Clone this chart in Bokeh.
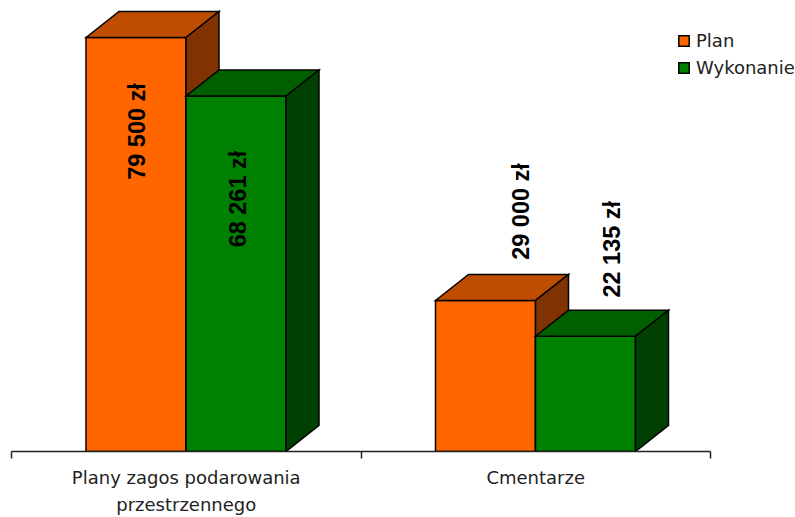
from bokeh.plotting import figure
from bokeh.models import Range1d, FixedTicker, Legend, LegendItem
from bokeh.core.properties import value
from bokeh.embed import file_html
from bokeh.resources import INLINE
import math

categories = ["Plany zagos podarowania\nprzestrzennego", "Cmentarze"]
series_names = ["Plan", "Wykonanie"]
plan_values = [79500, 29000]
wykonanie_values = [68261, 22135]
value_labels = [["79 500 zł", "29 000 zł"], ["68 261 zł", "22 135 zł"]]
face_colors = ["#FF6600", "#008000"]
top_colors = ["#BF4D00", "#006000"]
side_colors = ["#803300", "#004000"]

W, H = 795, 517
CAT_PX = 349.5
ORIGIN_PX = 11         # axis start within figure
BASE_PX = 451          # baseline within figure
ZL_PER_PX = 79500 / 414.0
BAR_W = 100.0 / CAT_PX
BAR_START = 74.5 / CAT_PX
DX = 33.0 / CAT_PX
DY = 26.0 * ZL_PER_PX

p = figure(width=W, height=H, output_backend="svg", toolbar_location=None,
           x_range=Range1d(-ORIGIN_PX / CAT_PX, (W - ORIGIN_PX) / CAT_PX),
           y_range=Range1d(0, BASE_PX * ZL_PER_PX),
           min_border_left=0, min_border_right=0, min_border_top=0,
           min_border_bottom=H - BASE_PX, outline_line_color=None)
p.grid.visible = False
p.yaxis.visible = False

ax = p.xaxis[0]
ax.ticker = FixedTicker(ticks=[0.5, 1.5], minor_ticks=[0, 1, 2])
ax.bounds = (0, 2)
ax.major_label_overrides = {0.5: categories[0], 1.5: categories[1]}
ax.major_tick_in = 0
ax.major_tick_out = 0
ax.minor_tick_in = 0
ax.minor_tick_out = 7
ax.minor_tick_line_color = "#222222"
ax.axis_line_color = "#222222"
ax.axis_line_width = 1.5
ax.minor_tick_line_width = 1.5
ax.major_label_text_font = "DejaVu Sans"
ax.major_label_text_font_size = "18px"
ax.major_label_text_line_height = 1.3
ax.major_label_text_color = "#222222"
ax.major_label_standoff = 8

series = [plan_values, wykonanie_values]
first = {}
for c in range(len(categories)):
    for s, vals in enumerate(series):
        v = vals[c]
        x0 = c + BAR_START + s * BAR_W
        x1 = x0 + BAR_W
        style = dict(line_color="#000000", line_width=1.5, line_join="miter")
        r = p.quad(left=[x0], right=[x1], bottom=[0], top=[v], fill_color=face_colors[s], **style)
        p.patch([x0, x0 + DX, x1 + DX, x1], [v, v + DY, v + DY, v], fill_color=top_colors[s], **style)
        p.patch([x1, x1 + DX, x1 + DX, x1], [0, DY, v + DY, v], fill_color=side_colors[s], **style)
        first.setdefault(s, r)

# text offsets from each bar's top-centre, screen pixels
label_dx = [[1, 35], [2, 26]]
label_dy = [[94, -89], [103, -87]]
for s, vals in enumerate(series):
    for c, v in enumerate(vals):
        xc = c + BAR_START + s * BAR_W + BAR_W / 2
        p.text(x=[xc], y=[v], text=[value_labels[s][c]], angle=math.pi / 2,
               x_offset=label_dx[s][c], y_offset=label_dy[s][c],
               text_align="center", text_baseline="middle", text_color="#000000",
               text_font=value("Liberation Sans"), text_font_size="23.5px", text_font_style="bold")

legend = Legend(items=[LegendItem(label=series_names[i], renderers=[first[i]]) for i in range(2)],
                location=(677, 373), orientation="vertical", background_fill_alpha=0,
                border_line_color=None, glyph_width=13, glyph_height=13, spacing=6,
                padding=4, margin=0, label_standoff=6,
                label_text_font="DejaVu Sans", label_text_font_size="18px",
                label_text_color="#222222")
p.add_layout(legend)

open("out.html", "w").write(file_html(p, INLINE))
